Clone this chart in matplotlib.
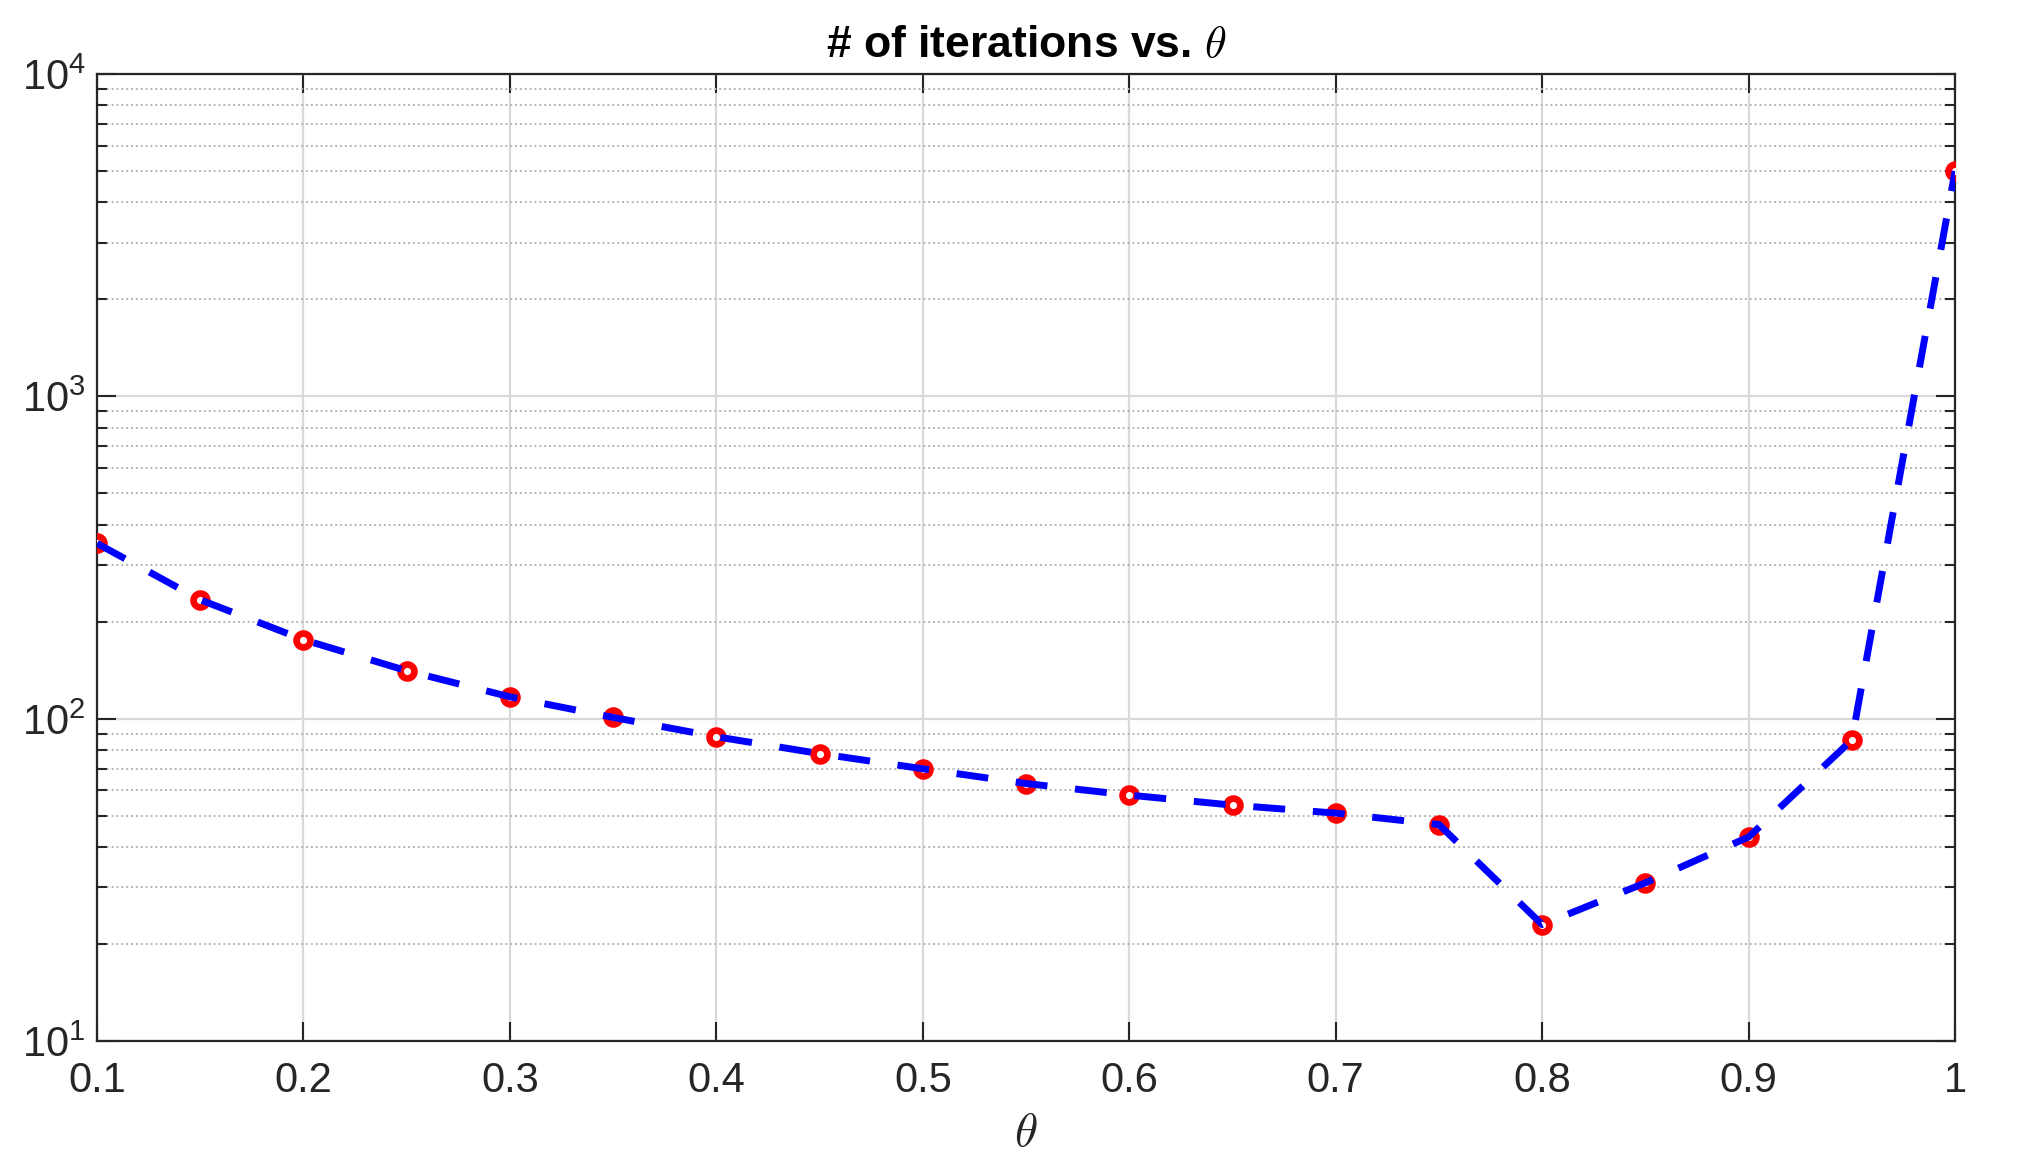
import numpy as np
import matplotlib
matplotlib.use('Agg')
import matplotlib.pyplot as plt
from matplotlib.ticker import LogLocator, NullFormatter

# data
theta = [0.1, 0.15, 0.2, 0.25, 0.3, 0.35, 0.4, 0.45, 0.5, 0.55,
         0.6, 0.65, 0.7, 0.75, 0.8, 0.85, 0.9, 0.95, 1.0]
iterations = [350, 234, 176, 141, 117, 101, 88, 78, 70, 63,
              58, 54, 51, 47, 23, 31, 43, 86, 5000]
xtick_vals = [0.1, 0.2, 0.3, 0.4, 0.5, 0.6, 0.7, 0.8, 0.9, 1.0]
xtick_labels = ['0.1', '0.2', '0.3', '0.4', '0.5', '0.6', '0.7', '0.8', '0.9', '1']

plt.rcParams['font.family'] = ['Liberation Sans', 'DejaVu Sans']
plt.rcParams['mathtext.fontset'] = 'cm'

fig = plt.figure(figsize=(20.34, 11.66), dpi=100)
ax = fig.add_axes([0.0477, 0.107, 0.9135, 0.8295])

dark = '#262626'

# markers first, then the dashed line on top (as in the reference)
ax.plot(theta, iterations, linestyle='none', marker='o', markersize=10,
        markerfacecolor='white', markeredgecolor='red', markeredgewidth=4.8, zorder=3)
ax.plot(theta, iterations, color='blue', linewidth=5, linestyle=(0, (4.6, 4.0)), zorder=4)

ax.set_yscale('log')
ax.set_xlim(0.1, 1.0)
ax.set_ylim(10, 1e4)

ax.set_xticks(xtick_vals)
ax.set_xticklabels(xtick_labels)
ax.yaxis.set_major_locator(LogLocator(base=10, numticks=10))
ax.yaxis.set_minor_locator(LogLocator(base=10, subs=np.arange(2, 10), numticks=20))
ax.yaxis.set_minor_formatter(NullFormatter())

# grid: solid major, dotted minor (y only)
ax.grid(True, which='major', color='#d9d9d9', linewidth=1.6, linestyle='-')
ax.grid(True, which='minor', axis='y', color='#b5b5b5', linewidth=1.4, linestyle=(0, (1, 1.5)))
ax.set_axisbelow(True)

ax.tick_params(which='both', direction='in', top=True, right=True,
               color=dark, labelcolor=dark, labelsize=30)
ax.tick_params(axis='x', which='major', length=14, width=1.5, pad=14)
ax.tick_params(axis='y', which='major', length=14, width=1.5, pad=8)
ax.tick_params(axis='y', which='minor', length=7, width=1.5)
ax.tick_params(axis='x', which='minor', bottom=False, top=False)

for s in ax.spines.values():
    s.set_color(dark)
    s.set_linewidth(1.6)

ax.set_title(r'# of iterations vs. $\theta$', fontsize=32, fontweight='bold', pad=12)
ax.set_xlabel(r'$\theta$', fontsize=34, color=dark, labelpad=8)

fig.savefig('out.png', dpi=100)
